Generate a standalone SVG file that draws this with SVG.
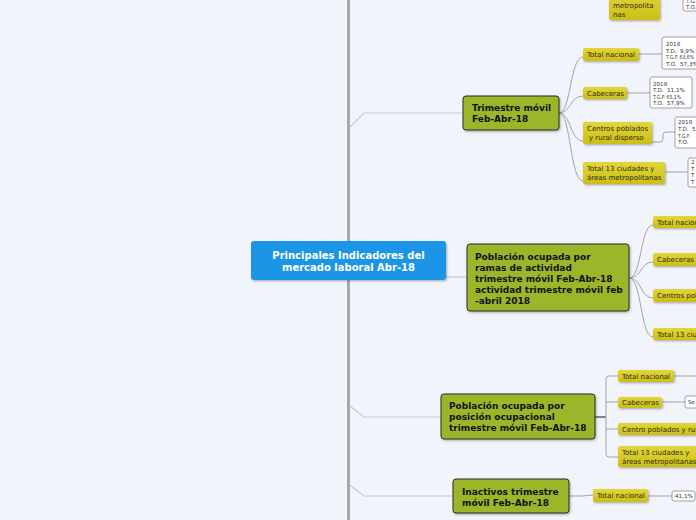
<svg xmlns="http://www.w3.org/2000/svg" width="696" height="520" viewBox="0 0 696 520">
<defs>
<linearGradient id="yg" x1="0" y1="0" x2="0" y2="1">
<stop offset="0" stop-color="#e2d73a"/>
<stop offset="1" stop-color="#ccbe14"/>
</linearGradient>
<filter id="sh" x="-10%" y="-20%" width="130%" height="150%">
<feDropShadow dx="1" dy="1.2" stdDeviation="0.8" flood-color="#000" flood-opacity="0.3"/>
</filter>
<style>
.bg{fill:#f2f4fc}
.spine{stroke:#a8a8a8;stroke-width:3;fill:none}
.br{stroke:#c9c9cc;stroke-width:1.2;fill:none}
.cn{stroke:#a3a3a8;stroke-width:1;fill:none}
.dk{stroke:#666;stroke-width:1.6;fill:none}
.leaf rect{fill:url(#yg);filter:url(#sh)}
.leaf text{font-family:"DejaVu Sans",Verdana,sans-serif;font-size:7px;fill:#2a2a1a}
.node rect{fill:#9cb62b;stroke:#2a2a2a;stroke-width:1;filter:url(#sh)}
.node text{font-family:"DejaVu Sans",Verdana,sans-serif;font-size:9px;font-weight:bold;fill:#111}
.data rect{fill:#fff;stroke:#8a8a8a;stroke-width:0.8}
.data text{font-family:"DejaVu Sans",Verdana,sans-serif;font-size:5.6px;fill:#333}
.root rect{fill:#1b95e6;filter:url(#sh)}
.root text{font-family:"DejaVu Sans",Verdana,sans-serif;font-size:10px;font-weight:bold;fill:#fff;text-anchor:middle}
</style>
</defs>
<rect class="bg" x="0" y="0" width="696" height="520"/>

<g id="connectors">
<line class="spine" x1="348.5" y1="0" x2="348.5" y2="520"/>
<path class="br" d="M350,127 L364,113 L463,113"/>
<path class="br" d="M446,277 L467,277"/>
<path class="br" d="M350,406 L364,417 L441,417"/>
<path class="br" d="M350,485 L364,496 L453,496"/>
<path class="cn" d="M559,113 C571,113 570,57 583,57"/>
<path class="cn" d="M559,113 C571,113 570,96 583,96"/>
<path class="cn" d="M559,113 C571,113 570,141 583,141"/>
<path class="cn" d="M559,113 C571,113 570,181 583,181"/>
<path class="cn" d="M639,54 L662,54"/>
<path class="cn" d="M627,93 L650,93"/>
<path class="cn" d="M652,142 L660,142 Q663,142 663,139 L663,135 Q663,132 666,132 L675,132"/>
<path class="cn" d="M665,172 L688,172"/>
<path class="cn" d="M629,278 C642,278 640,225 653,225"/>
<path class="cn" d="M629,278 C642,278 640,262 653,262"/>
<path class="cn" d="M629,278 C642,278 640,298 653,298"/>
<path class="cn" d="M629,278 C642,278 640,337 653,337"/>
<path class="dk" d="M595,417 L606,417"/>
<path class="cn" d="M618,376 L609,376 Q606,376 606,379 L606,454 Q606,457 609,457 L618,457"/>
<path class="cn" d="M606,402 L618,402"/>
<path class="cn" d="M606,429 L618,429"/>
<path class="cn" d="M674,376 L696,376"/>
<path class="cn" d="M662,402 L685,402"/>
<path class="cn" d="M569,496 L582,496 L593,495"/>
<path class="cn" d="M648,496 L672,496"/>
</g>

<g id="leaf-top" class="leaf">
<rect x="609" y="-10" width="51" height="30" rx="2"/>
<text x="613" y="7.5">metropolita</text>
<text x="613" y="17">nas</text>
</g>
<g id="data-top" class="data">
<rect x="683" y="-10" width="20" height="21" rx="2"/>
<text x="686" y="2.5">T.G.</text>
<text x="686" y="8.5">T.O.</text>
</g>

<g id="root" class="root">
<rect x="251" y="241" width="195" height="39" rx="3"/>
<text x="348.5" y="259">Principales Indicadores del</text>
<text x="348.5" y="271">mercado laboral Abr-18</text>
</g>

<g id="n-trimestre" class="node">
<rect x="463" y="96" width="96" height="34" rx="3"/>
<text x="472" y="111">Trimestre móvil</text>
<text x="472" y="122">Feb-Abr-18</text>
</g>

<g id="n-ramas" class="node">
<rect x="467" y="244" width="162" height="67" rx="3"/>
<text x="475" y="260">Población ocupada por</text>
<text x="475" y="271">ramas de actividad</text>
<text x="475" y="282">trimestre móvil Feb-Abr-18</text>
<text x="475" y="293">actividad trimestre móvil feb</text>
<text x="475" y="304">-abril 2018</text>
</g>

<g id="n-posicion" class="node">
<rect x="441" y="394" width="154" height="45" rx="3"/>
<text x="449" y="409">Población ocupada por</text>
<text x="449" y="420">posición ocupacional</text>
<text x="449" y="431">trimestre móvil Feb-Abr-18</text>
</g>

<g id="n-inactivos" class="node">
<rect x="453" y="479" width="116" height="34" rx="3"/>
<text x="462" y="494.5">Inactivos trimestre</text>
<text x="462" y="505.5">móvil Feb-Abr-18</text>
</g>

<g id="t-total" class="leaf">
<rect x="583" y="48" width="56" height="13" rx="2"/>
<text x="587" y="56.5">Total nacional</text>
</g>
<g id="t-cab" class="leaf">
<rect x="583" y="87" width="44" height="12" rx="2"/>
<text x="587" y="95.5">Cabeceras</text>
</g>
<g id="t-cent" class="leaf">
<rect x="583" y="122" width="69" height="22" rx="2"/>
<text x="587" y="131">Centros poblados</text>
<text x="589" y="139.5">y rural disperso</text>
</g>
<g id="t-13" class="leaf">
<rect x="583" y="162" width="82" height="22" rx="2"/>
<text x="587" y="170.5">Total 13 ciudades y</text>
<text x="587" y="179.5">áreas metropolitanas</text>
</g>

<g id="d-total" class="data">
<rect x="662" y="37" width="40" height="32" rx="2"/>
<text x="666" y="46">2018</text>
<text x="666" y="52.5">T.D.</text><text x="680" y="52.5">9,9%</text>
<text x="666" y="59" textLength="28" lengthAdjust="spacingAndGlyphs">T.G.P. 63,6%</text>
<text x="666" y="65.5">T.O.</text><text x="680" y="65.5">57,3%</text>
</g>
<g id="d-cab" class="data">
<rect x="650" y="77" width="42" height="31" rx="2"/>
<text x="653" y="85.5">2018</text>
<text x="653" y="92">T.D.</text><text x="667" y="92">11,1%</text>
<text x="653" y="98.5" textLength="28" lengthAdjust="spacingAndGlyphs">T.G.P. 65,1%</text>
<text x="653" y="105">T.O.</text><text x="667" y="105">57,9%</text>
</g>
<g id="d-cent" class="data">
<rect x="675" y="117" width="30" height="31" rx="2"/>
<text x="678" y="124">2018</text>
<text x="678" y="131">T.D.</text><text x="692" y="131">5</text>
<text x="678" y="137.5" textLength="12" lengthAdjust="spacingAndGlyphs">T.G.P.</text>
<text x="678" y="144">T.O.</text>
</g>
<g id="d-13" class="data">
<rect x="688" y="158" width="20" height="29" rx="2"/>
<text x="691" y="164">2</text>
<text x="691" y="170.5">T</text>
<text x="691" y="177">T</text>
<text x="691" y="183.5">T</text>
</g>

<g id="r-total" class="leaf">
<rect x="653" y="216" width="50" height="12" rx="2"/>
<text x="657" y="224.5">Total nacional</text>
</g>
<g id="r-cab" class="leaf">
<rect x="653" y="253" width="45" height="13" rx="2"/>
<text x="657" y="261.5">Cabeceras</text>
</g>
<g id="r-cent" class="leaf">
<rect x="653" y="289" width="50" height="13" rx="2"/>
<text x="657" y="297.5">Centros poblados</text>
</g>
<g id="r-13" class="leaf">
<rect x="653" y="328" width="50" height="12" rx="2"/>
<text x="657" y="336.5">Total 13 ciudades</text>
</g>

<g id="p-total" class="leaf">
<rect x="618" y="370" width="56" height="12" rx="2"/>
<text x="622" y="378.5">Total nacional</text>
</g>
<g id="p-cab" class="leaf">
<rect x="618" y="397" width="44" height="11" rx="2"/>
<text x="622" y="405">Cabeceras</text>
</g>
<g id="d-pcab" class="data">
<rect x="685" y="396" width="20" height="12" rx="2"/>
<text x="688" y="404">Se</text>
</g>
<g id="p-cent" class="leaf">
<rect x="618" y="423" width="85" height="12" rx="2"/>
<text x="622" y="431.5">Centro poblados y rural disperso</text>
</g>
<g id="p-13" class="leaf">
<rect x="618" y="446" width="80" height="21" rx="2"/>
<text x="622" y="454.5">Total 13 ciudades y</text>
<text x="622" y="464">áreas metropolitanas</text>
</g>

<g id="i-total" class="leaf">
<rect x="593" y="489" width="55" height="13" rx="2"/>
<text x="597" y="497.5">Total nacional</text>
</g>
<g id="d-inact" class="data">
<rect x="672" y="491" width="23" height="10" rx="2"/>
<text x="675" y="498">41,1%</text>
</g>
</svg>
